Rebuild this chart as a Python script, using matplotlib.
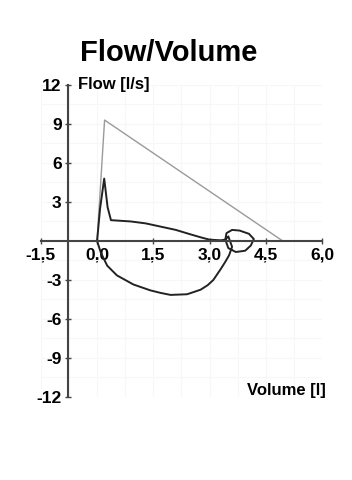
import matplotlib
matplotlib.use("Agg")
import matplotlib.pyplot as plt
from matplotlib.ticker import MultipleLocator

plt.rcParams['font.family'] = ['Liberation Sans', 'DejaVu Sans']

# predicted curve (gray)
pred_vol = [0.0, 0.2, 4.95]
pred_flow = [0.0, 9.3, 0.0]

# measured flow/volume loop (black)
meas_vol = [0.0, 0.08, 0.19, 0.28, 0.37, 0.9, 1.3, 1.7, 2.1, 2.5, 2.8, 3.0, 3.3,
            3.42, 3.45, 3.6, 3.8, 4.05, 4.18, 4.1, 3.95, 3.7, 3.5, 3.42, 3.5, 3.6,
            3.52, 3.42, 3.3, 3.1, 2.95, 2.76, 2.4, 1.96, 1.7, 1.42, 0.97, 0.53, 0.27, 0.1, 0.0]
meas_flow = [0.0, 2.5, 4.8, 2.6, 1.6, 1.5, 1.35, 1.1, 0.85, 0.5, 0.25, 0.1, 0.05,
             0.1, 0.6, 0.85, 0.8, 0.55, 0.15, -0.35, -0.75, -0.85, -0.55, 0.1, 0.35, -0.45,
             -1.1, -1.6, -2.15, -3.0, -3.4, -3.75, -4.1, -4.15, -4.0, -3.8, -3.35, -2.65, -1.9, -0.9, 0.0]

xticks = [-1.5, 0.0, 1.5, 3.0, 4.5, 6.0]
xtick_labels = ['-1,5', '0,0', '1,5', '3,0', '4,5', '6,0']
yticks = [-12, -9, -6, -3, 3, 6, 9, 12]
ytick_labels = ['-12', '-9', '-6', '-3', '3', '6', '9', '12']

fig = plt.figure(figsize=(3.52, 4.80), dpi=100)
ax = fig.add_axes([0.116, 0.173, 0.799, 0.65])

ax.plot(pred_vol, pred_flow, color='#9a9a9a', lw=1.0)
ax.plot(meas_vol, meas_flow, color='#222222', lw=1.4)

ax.set_xlim(-1.5, 6.0)
ax.set_ylim(-12, 12)

ax.spines['left'].set_position(('data', -0.78))
ax.spines['bottom'].set_position(('data', 0))
ax.spines['top'].set_visible(False)
ax.spines['right'].set_visible(False)
for s in ('left', 'bottom'):
    ax.spines[s].set_color('#444444')
    ax.spines[s].set_linewidth(1.5)

ax.set_xticks(xticks)
ax.set_xticklabels(xtick_labels, fontweight='bold', fontsize=12.5)
ax.set_yticks(yticks)
ax.set_yticklabels(ytick_labels, fontweight='bold', fontsize=12.5)
ax.tick_params(axis='both', direction='inout', length=5, width=1, color='#444444', pad=2)

# faint background grid
ax.xaxis.set_minor_locator(MultipleLocator(0.75))
ax.yaxis.set_minor_locator(MultipleLocator(1.5))
ax.grid(which='both', color='#f7f7f7', lw=0.8)
ax.tick_params(which='minor', length=0)
ax.set_axisbelow(True)

fig.text(0.48, 0.89, 'Flow/Volume', ha='center', va='center', fontsize=21, fontweight='bold')
ax.text(-0.52, 12, 'Flow [l/s]', ha='left', va='center', fontsize=12, fontweight='bold')
ax.text(6.1, -11.5, 'Volume [l]', ha='right', va='center', fontsize=12, fontweight='bold')

fig.savefig('out.png', dpi=100)
